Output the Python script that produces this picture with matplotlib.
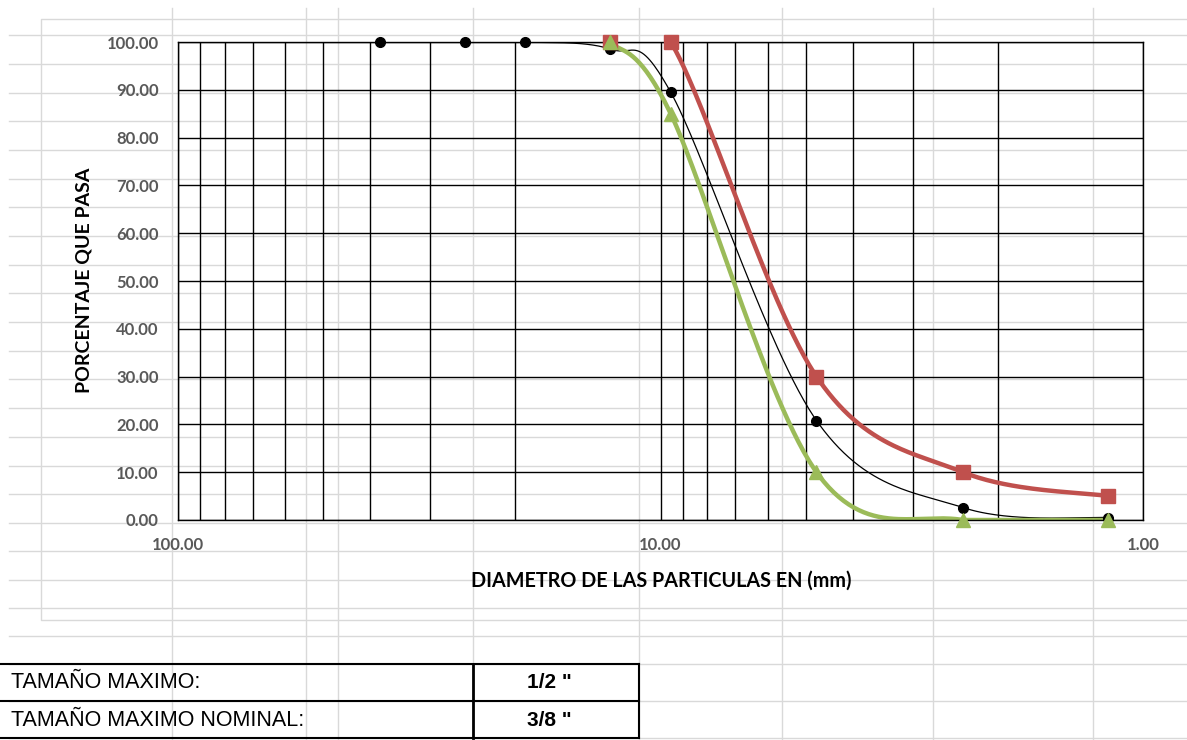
import numpy as np
import matplotlib
matplotlib.use("Agg")
import matplotlib.pyplot as plt
from matplotlib.ticker import FixedLocator, LogLocator, NullFormatter, FormatStrFormatter

# sieve openings (mm): 1 1/2", 1", 3/4", 1/2", 3/8", No.4, No.8, No.16
sieve_mm = [38.1, 25.4, 19.05, 12.7, 9.525, 4.75, 2.36, 1.18]
pct_passing = [100.0, 100.0, 100.0, 98.5, 89.5, 20.8, 2.6, 0.5]

# ASTM C33 huso No.8 limits, from 1/2" down to No.16
limit_mm = [12.7, 9.525, 4.75, 2.36, 1.18]
limit_upper = [100.0, 100.0, 30.0, 10.0, 5.0]
limit_lower = [100.0, 85.0, 10.0, 0.0, 0.0]

table_rows = ["TAMAÑO MAXIMO:", "TAMAÑO MAXIMO NOMINAL:"]
table_values = ['1/2 "', '3/8 "']

W, H = 1187, 740
CHART_FONT = ["Lato", "DejaVu Sans"]
SHEET_FONT = ["Liberation Sans", "DejaVu Sans"]
RED = "#C0504D"
GREEN = "#9BBB59"
SHEET_GRID = "#d9d9d9"


def smooth(xs, ys, n=60):
    # catmull-rom style bezier ("smoothed line"), worked out in log-x space;
    # parts that sag under 0 % are drawn along the axis
    p = np.column_stack([np.log10(xs), ys])
    ext = np.vstack([p[0], p, p[-1]])
    t = np.linspace(0, 1, n)[:, None]
    out = []
    for i in range(len(p) - 1):
        p0, p1, p2, p3 = ext[i], ext[i + 1], ext[i + 2], ext[i + 3]
        c1 = p1 + (p2 - p0) / 6.0
        c2 = p2 - (p3 - p1) / 6.0
        seg = (1 - t) ** 3 * p1 + 3 * (1 - t) ** 2 * t * c1 + 3 * (1 - t) * t ** 2 * c2 + t ** 3 * p2
        out.append(seg if i == 0 else seg[1:])
    xy = np.vstack(out)
    return 10 ** xy[:, 0], np.maximum(xy[:, 1], 0.0)


fig = plt.figure(figsize=(W / 100, H / 100), dpi=100)

# worksheet behind the chart
bg = fig.add_axes([0, 0, 1, 1], zorder=0)
bg.set_xlim(0, W)
bg.set_ylim(H, 0)
bg.axis("off")

sheet_cols = [172, 306, 338, 473, 639, 782, 933, 1093]
sheet_rows = [35, 64, 93, 121, 150, 179, 207, 236, 265, 293, 322, 351, 379, 408,
              437, 466, 494, 523, 551, 580, 608, 636, 664, 701, 738]
for x in sheet_cols:
    bg.plot([x, x], [8, H], color=SHEET_GRID, lw=1.0)
for y in sheet_rows:
    bg.plot([9, W], [y, y], color=SHEET_GRID, lw=1.0)
# chart frame
bg.plot([W + 5, 41, 41, W + 5], [19, 19, 620, 620], color=SHEET_GRID, lw=1.0)

# summary table below the chart
for y in (664, 701, 738):
    bg.plot([0, 639], [y, y], color="black", lw=1.5)
bg.plot([473, 473], [664, 738], color="black", lw=2.0)
bg.plot([639, 639], [664, 738], color="black", lw=1.5)
for i, (name, val) in enumerate(zip(table_rows, table_values)):
    yc = 683 + 37 * i
    bg.text(11, yc, name, family=SHEET_FONT, fontsize=15.5, ha="left", va="center")
    bg.text(549, yc, val, family=SHEET_FONT, fontsize=15, fontweight="bold",
            ha="center", va="center")

# axis titles
bg.text(84, 280, "PORCENTAJE QUE PASA", family=CHART_FONT, fontsize=14, fontweight="bold",
        rotation=90, ha="center", va="center")
bg.text(661, 581, "DIAMETRO DE LAS PARTICULAS EN (mm)", family=CHART_FONT, fontsize=14.2,
        fontweight="bold", ha="center", va="center")

# granulometric chart
ax = fig.add_axes([178 / W, 1 - 520 / H, 965 / W, 478 / H], zorder=1)
ax.set_facecolor("none")
ax.set_xscale("log")
ax.set_xlim(100, 1)
ax.set_ylim(0, 100)
ax.xaxis.set_major_locator(FixedLocator([100, 10, 1]))
ax.xaxis.set_minor_locator(LogLocator(base=10, subs=range(2, 10)))
ax.xaxis.set_major_formatter(FormatStrFormatter("%.2f"))
ax.xaxis.set_minor_formatter(NullFormatter())
ax.yaxis.set_major_locator(FixedLocator(np.arange(0, 101, 10)))
ax.yaxis.set_major_formatter(FormatStrFormatter("%.2f"))
ax.grid(which="both", axis="x", color="black", lw=1.0)
ax.grid(which="major", axis="y", color="black", lw=1.0)
ax.set_axisbelow(True)
for s in ax.spines.values():
    s.set_color("black")
    s.set_linewidth(1.0)
ax.tick_params(which="both", length=0)
ax.tick_params(axis="y", pad=14)
ax.tick_params(axis="x", pad=12)
for lbl in ax.get_xticklabels() + ax.get_yticklabels():
    lbl.set_family(CHART_FONT)
    lbl.set_fontweight("bold")
    lbl.set_fontsize(12)
    lbl.set_color("#595959")

sx, sy = smooth(sieve_mm, pct_passing)
ax.plot(sx, sy, color="black", lw=0.9, zorder=2)
ux, uy = smooth(limit_mm, limit_upper)
ax.plot(ux, uy, color=RED, lw=3.2, zorder=2)
lx, ly = smooth(limit_mm, limit_lower)
ax.plot(lx, ly, color=GREEN, lw=3.2, zorder=2)

ax.plot(sieve_mm, pct_passing, "o", color="black", ms=7, zorder=4, clip_on=False)
ax.plot(limit_mm, limit_upper, "s", color=RED, ms=10.5, zorder=4, clip_on=False)
ax.plot(limit_mm, limit_lower, "^", color=GREEN, ms=10, zorder=4, clip_on=False)

fig.savefig("out.png", dpi=100)
